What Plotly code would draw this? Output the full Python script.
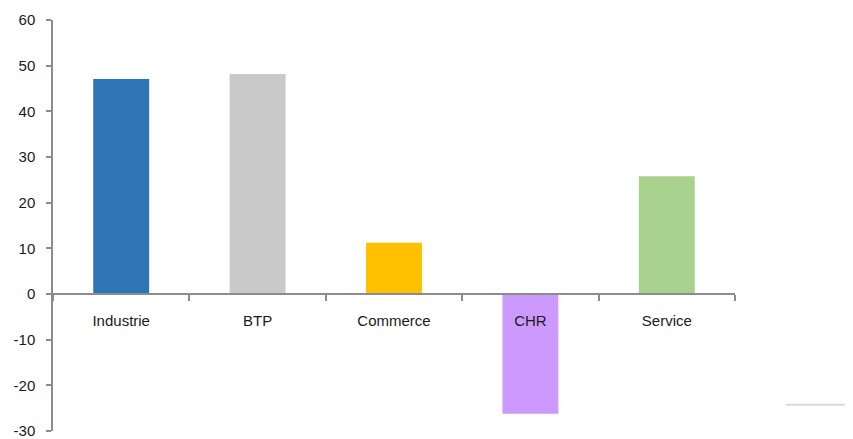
import plotly.graph_objects as go

categories = ["Industrie", "BTP", "Commerce", "CHR", "Service"]
values = [47.1, 48.2, 11.2, -26.2, 25.8]
colors = ["#2E75B6", "#C9C9C9", "#FFC000", "#CC99FF", "#A9D18E"]
y_ticks = [-30, -20, -10, 0, 10, 20, 30, 40, 50, 60]
y_tick_text = ["-30", "-20", "-10", "0", "10", "20", "30", "40", "50", "60"]

FONT = "Liberation Sans, Arial, sans-serif"
AXIS_COLOR = "#8c8c8c"

fig = go.Figure(go.Bar(
    x=categories, y=values, marker_color=colors, marker_line_width=0,
    width=0.41, showlegend=False,
))

# page body has an 8px default margin, so offsets are compensated here
fig.update_layout(
    width=853, height=439,
    margin=dict(l=45, r=126, t=12, b=16),
    paper_bgcolor="white", plot_bgcolor="white",
    font=dict(family=FONT, size=15, color="#1a1a1a"),
    xaxis=dict(
        type="category", range=[-0.5, 4.5],
        anchor="free", position=30/90,
        showline=True, linecolor=AXIS_COLOR, linewidth=2,
        ticks="outside", tickson="boundaries", ticklen=6,
        tickcolor=AXIS_COLOR, tickwidth=1.5,
        showgrid=False, zeroline=False, automargin=False,
        ticklabelstandoff=13,
    ),
    yaxis=dict(
        range=[-30, 60], tickvals=y_ticks, ticktext=y_tick_text,
        showline=True, linecolor=AXIS_COLOR, linewidth=1.5,
        ticks="outside", ticklen=5, tickcolor=AXIS_COLOR, tickwidth=1.5,
        showgrid=False, zeroline=False, automargin=False,
        ticklabelstandoff=8,
    ),
    shapes=[dict(
        type="line", xref="paper", yref="paper",
        x0=1.0747, x1=1.22, y0=0.064, y1=0.064,
        line=dict(color="#d9d9d9", width=2),
    )],
)

fig.write_html("out.html")
